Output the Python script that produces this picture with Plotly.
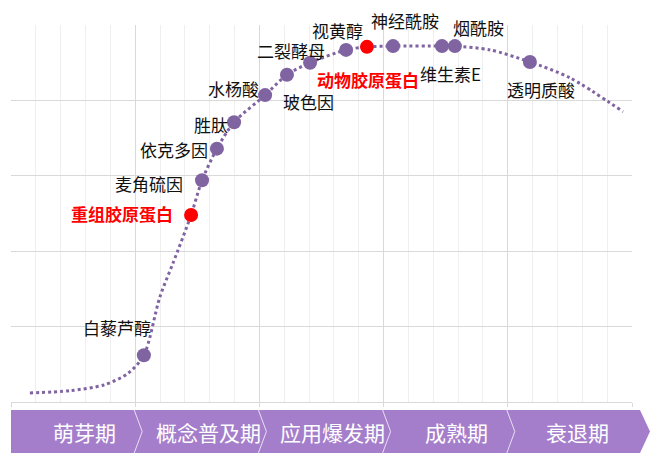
import plotly.graph_objects as go

# Ingredient positions along the product life-cycle curve
names = ["白藜芦醇", "重组胶原蛋白", "麦角硫因", "依克多因", "胜肽", "水杨酸", "玻色因",
         "二裂酵母", "视黄醇", "动物胶原蛋白", "神经酰胺", "维生素E", "烟酰胺", "透明质酸"]
x_pos = [5.35, 7.25, 7.69, 8.29, 8.98, 10.23, 11.11, 12.04, 13.49, 14.33, 15.38, 17.35, 17.87, 20.89]
y_pos = [0.62, 2.48, 2.94, 3.36, 3.71, 4.07, 4.34, 4.50, 4.67, 4.71, 4.72, 4.72, 4.72, 4.51]
highlight = ["重组胶原蛋白", "动物胶原蛋白"]

# Life-cycle curve path
curve_x = [0.76, 2.38, 3.78, 4.71, 5.35, 5.99, 6.52, 7.25, 7.69, 8.29, 8.98, 10.23, 11.11,
           12.04, 13.49, 14.33, 15.38, 17.35, 17.87, 19.28, 20.89, 22.5, 24.64]
curve_y = [0.12, 0.15, 0.23, 0.38, 0.62, 1.39, 1.84, 2.48, 2.94, 3.36, 3.71, 4.07, 4.34,
           4.50, 4.67, 4.71, 4.72, 4.72, 4.72, 4.67, 4.51, 4.30, 3.85]

stages = ["萌芽期", "概念普及期", "应用爆发期", "成熟期", "衰退期"]

# label placement: (xanchor, xshift, yshift) in pixels
label_place = {
    "白藜芦醇": ("center", -27, 28),
    "重组胶原蛋白": ("right", -16, 2),
    "麦角硫因": ("right", -17, -3),
    "依克多因": ("right", -7, -1),
    "胜肽": ("right", -4, -2),
    "水杨酸": ("right", -4, 7),
    "玻色因": ("left", -6, -27),
    "二裂酵母": ("center", -19, 12),
    "视黄醇": ("center", -9, 19),
    "动物胶原蛋白": ("center", 1, -33),
    "神经酰胺": ("center", 12, 26),
    "维生素E": ("center", 9, -27),
    "烟酰胺": ("center", 24, 19),
    "透明质酸": ("center", 11, -28),
}

PURPLE = "#8064A2"
RED = "#FF0000"
BAND = "#A57ECB"
FONT = "Noto Sans CJK SC"

W, H = 659, 453
ML, MR, MT, MB = 11, 27, 25, 51
PW, PH = W - ML - MR, H - MT - MB

fig = go.Figure()
fig.add_trace(go.Scatter(
    x=curve_x, y=curve_y, mode="lines",
    line=dict(color=PURPLE, width=3, dash="dot", shape="spline", smoothing=0.8),
    hoverinfo="skip", showlegend=False))
fig.add_trace(go.Scatter(
    x=x_pos, y=y_pos, mode="markers", text=names,
    marker=dict(size=14, color=[RED if n in highlight else PURPLE for n in names]),
    showlegend=False))

for n, xv, yv in zip(names, x_pos, y_pos):
    anchor, dx, dy = label_place[n]
    red = n in highlight
    fig.add_annotation(
        x=xv, y=yv, text=f"<b>{n}</b>" if red else n, showarrow=False,
        xanchor=anchor, yanchor="middle", xshift=dx, yshift=dy,
        font=dict(family=FONT, size=17, color=RED if red else "#111111"))

# Stage band below the plot (paper coordinates)
def px_x(dpx):
    return dpx / PW

def px_y(py):
    return (H - MB - py) / PH

top, mid, bot = px_y(410), px_y(431.5), px_y(453)
band = (f"M 0,{top} L {1 + px_x(8)},{top} L {1 + px_x(18)},{mid} "
        f"L {1 + px_x(8)},{bot} L 0,{bot} Z")
fig.add_shape(type="path", path=band, xref="paper", yref="paper",
              fillcolor=BAND, line=dict(width=0), layer="above")
n_st = len(stages)
for i in range(1, n_st):
    b = i / n_st
    fig.add_shape(type="path",
                  path=f"M {b - px_x(1)},{top} L {b + px_x(7)},{mid} L {b - px_x(1)},{bot}",
                  xref="paper", yref="paper",
                  line=dict(color="rgba(255,255,255,0.75)", width=1), layer="above")
for i, s in enumerate(stages):
    fig.add_annotation(x=(i + 0.5) / n_st, y=px_y(432), xref="paper", yref="paper",
                       xanchor="center", yanchor="middle",
                       text=s, showarrow=False, xshift=11 if i < n_st - 1 else 8,
                       font=dict(family=FONT, size=21, color="white"))

fig.update_layout(
    width=W, height=H, margin=dict(l=ML, r=MR, t=MT, b=MB),
    paper_bgcolor="white", plot_bgcolor="white",
    xaxis=dict(range=[0, 25], tickvals=[0, 5, 10, 15, 20, 25], showticklabels=False,
               showgrid=True, gridcolor="#D9D9D9", gridwidth=1, zeroline=False,
               ticks="outside", ticklen=4, tickcolor="#D9D9D9",
               showline=True, linecolor="#D9D9D9",
               minor=dict(dtick=1, tick0=0, showgrid=True, gridcolor="#EFEFEF", ticks="")),
    yaxis=dict(range=[0, 5], dtick=1, showticklabels=False, showgrid=True,
               gridcolor="#D9D9D9", zeroline=False, showline=False),
)

fig.write_html("out.html")
